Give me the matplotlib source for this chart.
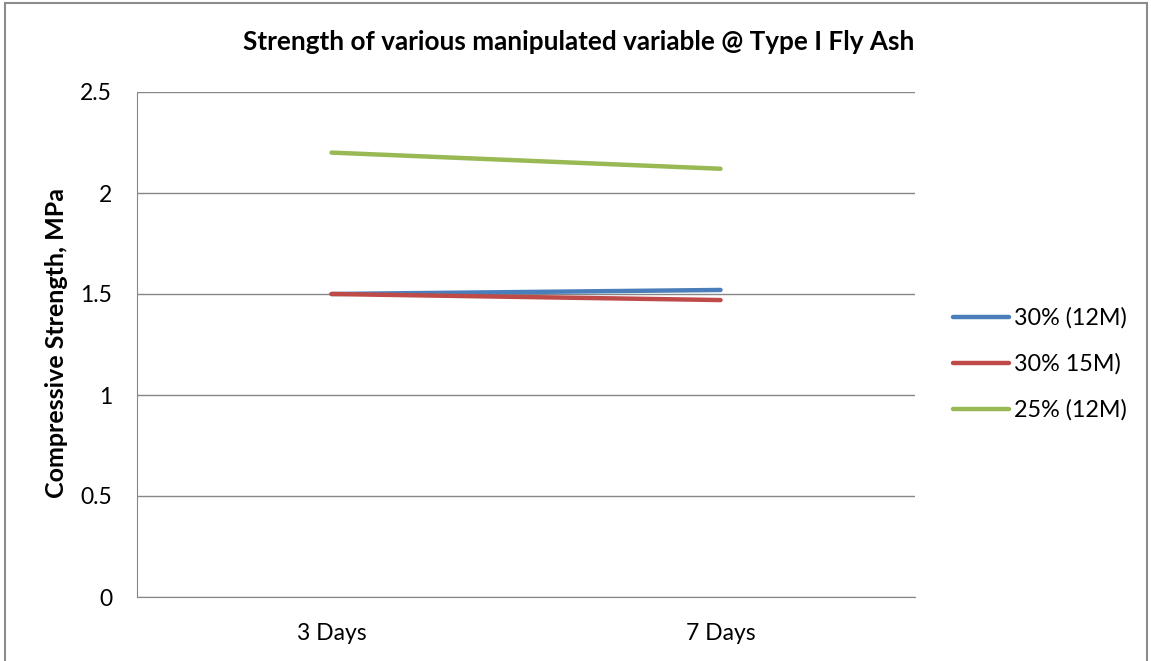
import matplotlib.pyplot as plt
from matplotlib.patches import Rectangle

plt.rcParams['font.family'] = ['Lato', 'DejaVu Sans']

days = ['3 Days', '7 Days']
s30_12 = [1.50, 1.52]
s30_15 = [1.50, 1.47]
s25_12 = [2.20, 2.12]
labels = ['30% (12M)', '30% 15M)', '25% (12M)']
colors = ['#4A7EBB', '#BE4B48', '#98B954']

fig = plt.figure(figsize=(11.51, 6.61), dpi=100)
ax = fig.add_axes([137 / 1151, 1 - 597 / 661, 778 / 1151, 505 / 661])

x = range(len(days))
for vals, lab, col in zip([s30_12, s30_15, s25_12], labels, colors):
    ax.plot(x, vals, color=col, lw=3.2, label=lab, solid_capstyle='round')

ax.set_xlim(-0.5, 1.5)
ax.set_ylim(0, 2.5)
ax.set_yticks([0, 0.5, 1, 1.5, 2, 2.5])
ax.set_yticklabels(['0', '0.5', '1', '1.5', '2', '2.5'])
ax.set_xticks(list(x))
ax.set_xticklabels(days)
ax.tick_params(length=0, labelsize=16.5, colors='#000000')
ax.tick_params(axis='x', pad=19)
ax.tick_params(axis='y', pad=18)
ax.grid(axis='y', color='#868686', lw=1)
ax.set_axisbelow(True)
for side in ['top', 'right']:
    ax.spines[side].set_visible(False)
for side in ['left', 'bottom']:
    ax.spines[side].set_color('#868686')

fig.text(57 / 1151, 1 - 343 / 661, 'Compressive Strength, MPa', rotation=90,
         ha='center', va='center', fontsize=18, fontweight='bold')
fig.text(579 / 1151, 1 - 42 / 661, 'Strength of various manipulated variable @ Type I Fly Ash',
         ha='center', va='center', fontsize=18.8, fontweight='bold')

ax.legend(loc='center left', bbox_to_anchor=(953 / 1151, 1 - 364 / 661),
          bbox_transform=fig.transFigure, frameon=False, fontsize=16.8,
          borderpad=0, borderaxespad=0,
          handlelength=2.4, handletextpad=0.2, labelspacing=1.05)

fig.patches.append(Rectangle((5 / 1151, -0.01), 1142 / 1151, 1 - 3 / 661 + 0.01,
                             transform=fig.transFigure, fill=False,
                             edgecolor='#8c8c8c', lw=1.5))

fig.savefig('out.png', dpi=100)
